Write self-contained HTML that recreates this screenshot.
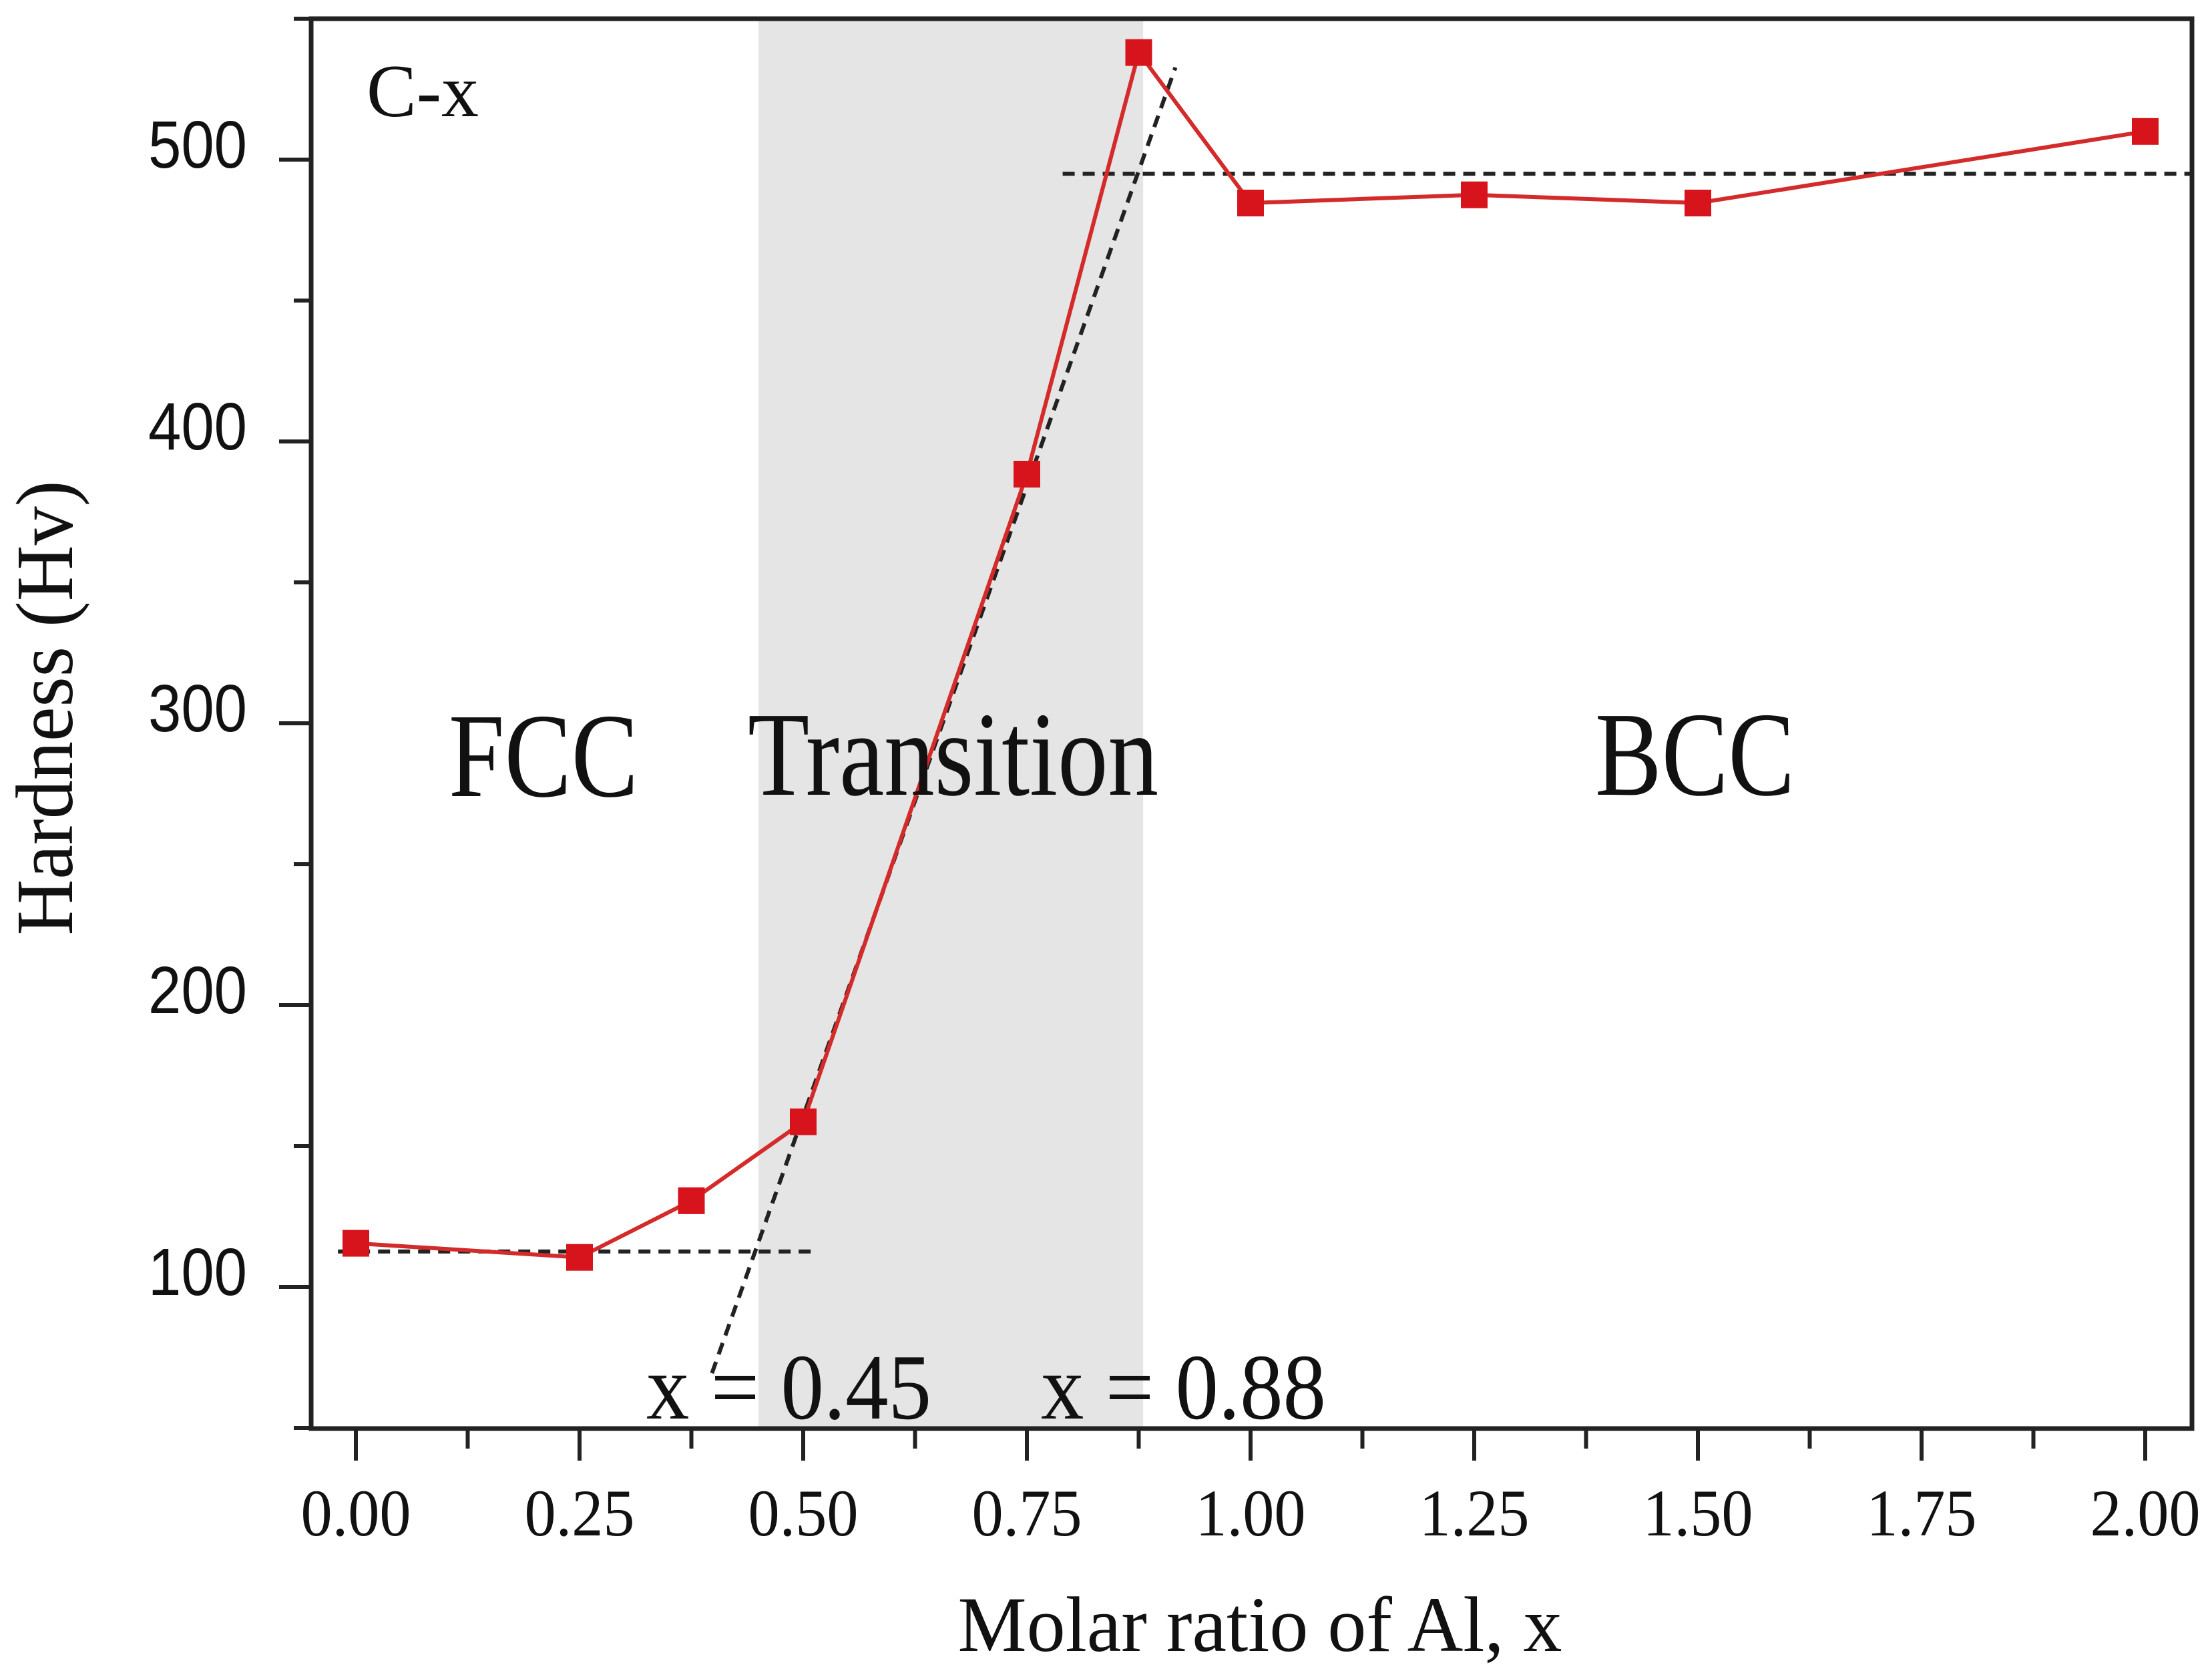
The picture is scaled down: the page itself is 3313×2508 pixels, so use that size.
<!DOCTYPE html>
<html><head><meta charset="utf-8"><style>
html,body{margin:0;padding:0;background:#fff;}
svg{display:block;}
text{font-family:"Liberation Serif",serif;fill:#111;}
</style></head><body>
<svg id="chart" width="3313" height="2508" viewBox="0 0 3313 2508" xmlns="http://www.w3.org/2000/svg">
<g id="shade"></g>
<g id="guides"></g>
<g id="series"></g>
<g id="axes"></g>
<g id="labels"></g>
</svg>
<script>
const xCats = [0, 0.25, 0.375, 0.5, 0.75, 0.875, 1.0, 1.25, 1.5, 2.0];
const hardness = [115.5, 110.5, 130.6, 158.6, 388.4, 538, 484.6, 487.5, 484.6, 510];
const xTicks = [0, 0.25, 0.5, 0.75, 1.0, 1.25, 1.5, 1.75, 2.0];
const xTickLabels = ["0.00","0.25","0.50","0.75","1.00","1.25","1.50","1.75","2.00"];
const yTicks = [100, 200, 300, 400, 500];
const yTickLabels = ["100","200","300","400","500"];
const transitionRange = [0.45, 0.88];
const fccLevel = [-0.02, 0.512, 112.6];
const bccLevel = [0.79, 2.05, 495];
const slopeLine = [0.398, 69.4, 0.916, 532.7];

const NS = "http://www.w3.org/2000/svg";
const X0 = 466, X1 = 3283, Ytop = 28, Ybot = 2139;
function xs(v){ return 533 + v * 1340; }
function ys(v){ return 239 + (500 - v) * 4.22; }
function mk(tag, attrs, parent){
  const e = document.createElementNS(NS, tag);
  for (const k in attrs) e.setAttribute(k, attrs[k]);
  parent.appendChild(e); return e;
}
const gShade = document.getElementById('shade');
const gGuides = document.getElementById('guides');
const gSeries = document.getElementById('series');
const gAxes = document.getElementById('axes');
const gLabels = document.getElementById('labels');

const band = mk('rect', {x: xs(transitionRange[0]), y: Ytop, width: xs(transitionRange[1]) - xs(transitionRange[0]), height: Ybot - Ytop, fill: '#e5e5e5'}, gShade);



const dash = {stroke: '#222', 'stroke-width': 6, 'stroke-dasharray': '18 12', fill: 'none'};
const g1 = mk('line', Object.assign({x1: xs(fccLevel[0]), x2: xs(fccLevel[1]), y1: ys(fccLevel[2]), y2: ys(fccLevel[2])}, dash), gGuides);


const g2 = mk('line', Object.assign({x1: xs(bccLevel[0]), x2: Math.min(xs(bccLevel[1]), X1), y1: ys(bccLevel[2]), y2: ys(bccLevel[2])}, dash), gGuides);


const g3 = mk('line', Object.assign({x1: xs(slopeLine[0]), y1: ys(slopeLine[1]), x2: xs(slopeLine[2]), y2: ys(slopeLine[3])}, dash), gGuides);



const pts = xCats.map((x, i) => xs(x) + ',' + ys(hardness[i])).join(' ');
const pl = mk('polyline', {points: pts, fill: 'none', stroke: '#d42a2a', 'stroke-width': 6}, gSeries);


xCats.forEach((x, i) => {
  const r = mk('rect', {x: xs(x) - 20, y: ys(hardness[i]) - 20, width: 40, height: 40, fill: '#d7141c'}, gSeries);
  
  
});

const fr = mk('rect', {x: X0, y: Ytop, width: X1 - X0, height: Ybot - Ytop, fill: 'none', stroke: '#222', 'stroke-width': 7}, gAxes);



for (let k = 0; k <= 16; k++) {
  const v = k * 0.125;
  const major = k % 2 === 0;
  const t = mk('line', {x1: xs(v), x2: xs(v), y1: Ybot, y2: Ybot + (major ? 48 : 30), stroke: '#222', 'stroke-width': 6}, gAxes);
  
  
}
xTicks.forEach((v, i) => {
  const t = mk('text', {x: xs(v), y: 2299, 'text-anchor': 'middle', 'font-size': 100, textLength: 165, lengthAdjust: 'spacingAndGlyphs'}, gLabels);
  t.textContent = xTickLabels[i];
  
  
});
for (let v = 50; v <= 550; v += 50) {
  const major = v % 100 === 0;
  const t = mk('line', {x1: X0, x2: X0 - (major ? 48 : 26), y1: ys(v), y2: ys(v), stroke: '#222', 'stroke-width': 6}, gAxes);
  
  
}
yTicks.forEach((v, i) => {
  const t = mk('text', {x: 370, y: ys(v) + 12, 'text-anchor': 'end', 'font-size': 100, textLength: 148, lengthAdjust: 'spacingAndGlyphs', style: 'font-family:"Liberation Sans",sans-serif'}, gLabels);
  t.textContent = yTickLabels[i];
  
  
});
</script>
<svg style="position:absolute;left:0;top:0" width="3313" height="2508" viewBox="0 0 3313 2508" xmlns="http://www.w3.org/2000/svg">
<text x="549" y="174" font-size="112" style="font-family:'Liberation Serif',serif">C-x</text>
<text x="672" y="1192" font-size="180" textLength="284" lengthAdjust="spacingAndGlyphs" style="font-family:'Liberation Serif',serif">FCC</text>
<text x="1120" y="1190" font-size="180" textLength="615" lengthAdjust="spacingAndGlyphs" style="font-family:'Liberation Serif',serif">Transition</text>
<text x="2389" y="1190" font-size="180" textLength="299" lengthAdjust="spacingAndGlyphs" style="font-family:'Liberation Serif',serif">BCC</text>
<text x="968" y="2124" font-size="140" textLength="427" lengthAdjust="spacingAndGlyphs" style="font-family:'Liberation Serif',serif">x = 0.45</text>
<text x="1559" y="2124" font-size="140" textLength="427" lengthAdjust="spacingAndGlyphs" style="font-family:'Liberation Serif',serif">x = 0.88</text>
<text x="1887" y="2472" text-anchor="middle" font-size="118" textLength="905" lengthAdjust="spacingAndGlyphs" style="font-family:'Liberation Serif',serif">Molar ratio of Al, x</text>
<text x="0" y="0" transform="translate(108,1060) rotate(-90)" text-anchor="middle" font-size="122" textLength="681" lengthAdjust="spacingAndGlyphs" style="font-family:'Liberation Serif',serif">Hardness (Hv)</text>
</svg>
</body></html>
